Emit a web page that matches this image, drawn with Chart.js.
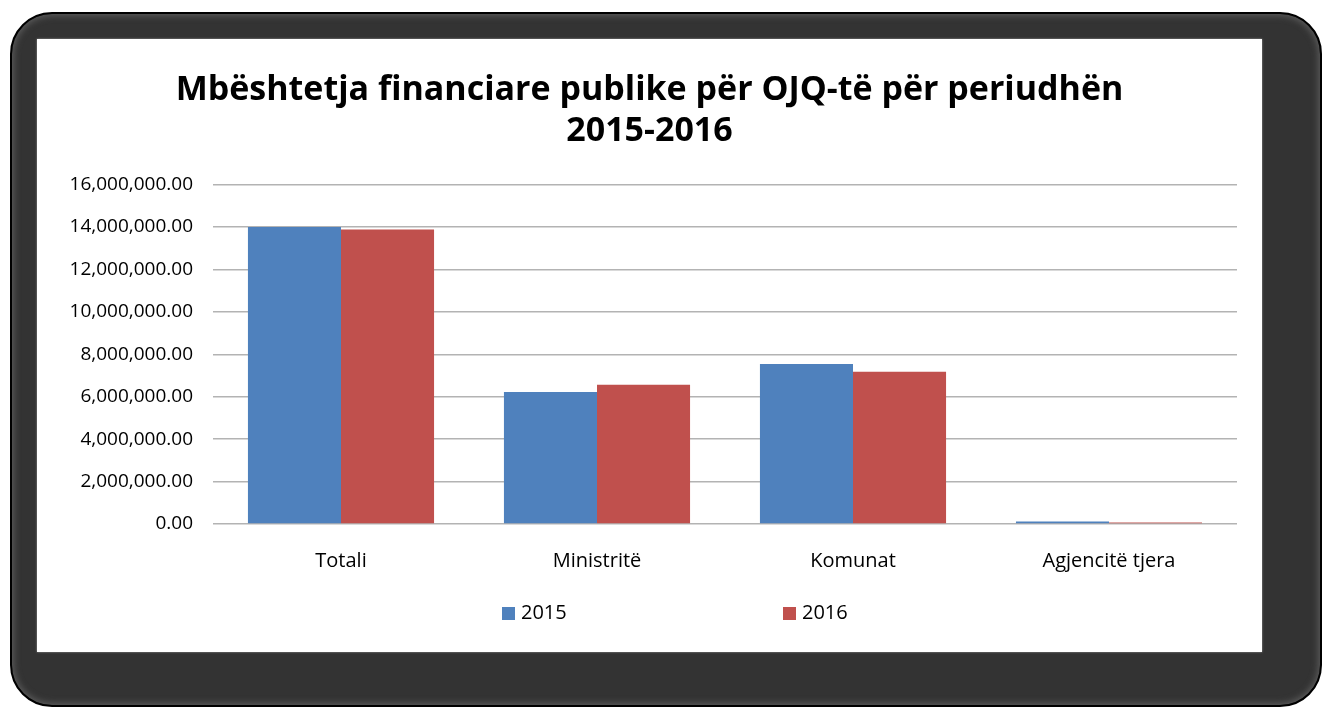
<!DOCTYPE html>
<html>
<head>
<meta charset="utf-8">
<script src="https://cdn.jsdelivr.net/npm/chart.js@4.4.0/dist/chart.umd.min.js"></script>
<style>
  html, body { margin: 0; padding: 0; background: #fff; width: 1322px; height: 715px; overflow: hidden; }
  #frame {
    position: absolute; left: 10px; top: 12px; width: 1308px; height: 691px;
    background: #333; border: 2px solid #000; border-radius: 42px;
    box-shadow: inset 0 0 6px 2px #5a5a5a;
  }
  #panel {
    position: absolute; left: 37px; top: 39px; width: 1225px; height: 613px;
    background: #fff; box-shadow: 0 0 2px #999;
  }
  #panel canvas { position: absolute; left: 0; top: 0; }
  .leg { position: absolute; top: 599px; font: 20px "Open Sans", sans-serif; color: #000; line-height: 26px; }
  .leg i { display: inline-block; width: 13px; height: 13px; margin-right: 6px; vertical-align: -1px; }
</style>
</head>
<body>
<div id="frame"></div>
<div id="panel">
  <canvas id="grafico" width="1225" height="613"></canvas>
</div>
<div id="legenda"></div>
<script>
// Dados do gráfico
const categorias = ["Totali", "Ministritë", "Komunat", "Agjencitë tjera"];
const anos = ["2015", "2016"];
const valores2015 = [14000000, 6220000, 7540000, 120000];
const valores2016 = [13880000, 6560000, 7180000, 75000];
const ticksY = [0, 2000000, 4000000, 6000000, 8000000, 10000000, 12000000, 14000000, 16000000];
const cores = ["#4F81BD", "#C0504D"];

const formatador = new Intl.NumberFormat('en-US', { minimumFractionDigits: 2, maximumFractionDigits: 2 });

const ctx = document.getElementById("grafico").getContext("2d");
new Chart(ctx, {
  type: 'bar',
  data: {
    labels: categorias,
    datasets: [
      { label: anos[0], data: valores2015, backgroundColor: cores[0] },
      { label: anos[1], data: valores2016, backgroundColor: cores[1] }
    ]
  },
  options: {
    responsive: false,
    animation: false,
    layout: { padding: 0 },
    datasets: { bar: { barPercentage: 1, categoryPercentage: 0.727 } },
    plugins: {
      legend: { display: false },
      tooltip: { enabled: false },
      title: {
        display: true,
        text: ["Mbështetja financiare publike për OJQ-të për periudhën", "2015-2016"],
        color: '#000',
        font: { family: "Open Sans", size: 34, weight: 'bold' },
        lineHeight: 1.25,
        padding: { top: 31, bottom: 33 }
      }
    },
    scales: {
      x: {
        grid: { display: false },
        border: { display: false },
        ticks: { color: '#000', padding: 17, font: { family: "Open Sans", size: 20 } },
        afterFit: (s) => { s.height = 128; }
      },
      y: {
        min: 0, max: 16000000,
        afterBuildTicks: (s) => { s.ticks = ticksY.map(v => ({ value: v })); },
        afterFit: (s) => { s.width = 176; },
        grid: { color: '#b3b3b3', lineWidth: 1.5, drawTicks: false },
        border: { display: false },
        ticks: {
          color: '#000', padding: 20,
          font: { family: "Open Sans", size: 19 },
          callback: (v) => formatador.format(v)
        }
      },
      // eixo vazio à direita só para reservar a margem e manter o título centrado
      margem: {
        position: 'right',
        grid: { display: false },
        border: { display: false },
        ticks: { display: false },
        afterFit: (s) => { s.width = 25; }
      }
    }
  }
});

// Legenda em HTML, com espaçamento largo como no original
const legenda = document.getElementById("legenda");
const posLegenda = [502, 783];
anos.forEach((ano, i) => {
  const el = document.createElement("div");
  el.className = "leg";
  el.style.left = posLegenda[i] + "px";
  el.innerHTML = `<i style="background:${cores[i]}"></i>${ano}`;
  legenda.appendChild(el);
});
</script>
</body>
</html>
